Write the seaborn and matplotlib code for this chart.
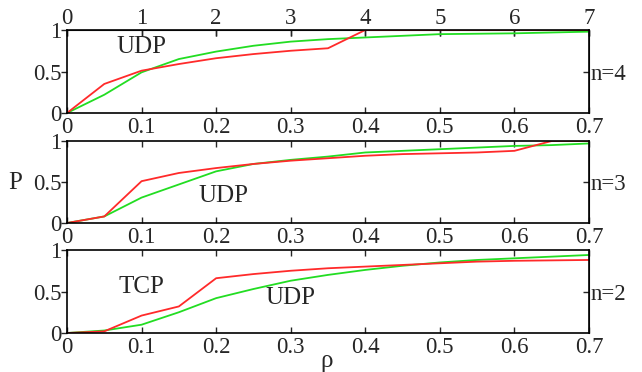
import matplotlib
matplotlib.use("Agg")
import matplotlib.pyplot as plt
import seaborn as sns
import pandas as pd

rho = [0.0, 0.05, 0.1, 0.15, 0.2, 0.25, 0.3, 0.35, 0.4, 0.45, 0.5, 0.55, 0.6, 0.65, 0.7]

# n=4
red_n4 = [0.0, 0.35, 0.51, 0.59, 0.66, 0.71, 0.75, 0.78, 1.0, 1.0, 1.0, 1.0, 1.0, 1.0, 1.0]
green_n4 = [0.0, 0.22, 0.49, 0.65, 0.74, 0.81, 0.86, 0.89, 0.91, 0.93, 0.95, 0.955, 0.96, 0.97, 0.98]
# n=3
red_n3 = [0.0, 0.08, 0.51, 0.61, 0.67, 0.72, 0.76, 0.79, 0.82, 0.84, 0.85, 0.86, 0.88, 1.0, 1.0]
green_n3 = [0.0, 0.08, 0.31, 0.47, 0.63, 0.72, 0.77, 0.81, 0.86, 0.88, 0.9, 0.92, 0.94, 0.95, 0.97]
# n=2
red_n2 = [0.0, 0.02, 0.21, 0.32, 0.66, 0.71, 0.75, 0.78, 0.8, 0.82, 0.84, 0.86, 0.87, 0.875, 0.88]
green_n2 = [0.0, 0.03, 0.1, 0.25, 0.42, 0.53, 0.63, 0.7, 0.76, 0.81, 0.85, 0.88, 0.9, 0.92, 0.94]

panel_labels = ["n=4", "n=3", "n=2"]
xticks = [0, 0.1, 0.2, 0.3, 0.4, 0.5, 0.6, 0.7]
xticklabels = ["0", "0.1", "0.2", "0.3", "0.4", "0.5", "0.6", "0.7"]
top_ticklabels = ["0", "1", "2", "3", "4", "5", "6", "7"]
yticks = [0, 0.5, 1]
yticklabels = ["0", "0.5", "1"]

sns.set_style("white")
plt.rcParams["font.family"] = ["Liberation Serif", "DejaVu Serif"]
FS = 16.5
AFS = 18

RED = "#ff2a2a"
GREEN = "#22dd22"

fig = plt.figure(figsize=(6.42, 3.72), dpi=100)
W = 642.0
H = 372.0
left = 67 / W
width = (589 - 67) / W
panels = [(30, 113), (141, 223), (250, 333)]
data = [(red_n4, green_n4), (red_n3, green_n3), (red_n2, green_n2)]

axes = []
for i, ((t, b), (rd, gr)) in enumerate(zip(panels, data)):
    ax = fig.add_axes([left, 1 - b / H, width, (b - t) / H])
    df = pd.DataFrame({"rho": rho, "red": rd, "green": gr})
    sns.lineplot(data=df, x="rho", y="green", ax=ax, color=GREEN, lw=1.3)
    sns.lineplot(data=df, x="rho", y="red", ax=ax, color=RED, lw=1.3)
    ax.set_xlim(0, 0.7)
    ax.set_ylim(0, 1)
    ax.set_xlabel("")
    ax.set_ylabel("")
    ax.set_xticks(xticks)
    ax.set_xticklabels(xticklabels, fontsize=FS)
    ax.set_yticks(yticks)
    ax.set_yticklabels(yticklabels, fontsize=FS)
    ax.tick_params(axis="x", direction="in", length=4, width=1, pad=3, top=True, bottom=True)
    ax.tick_params(axis="y", direction="out", length=4, width=1, pad=0, left=True, right=False)
    for s in ax.spines.values():
        s.set_linewidth(1.2)
        s.set_color("black")
    sec = ax.secondary_yaxis("right")
    sec.set_yticks([0.5])
    sec.set_yticklabels([panel_labels[i]], fontsize=FS)
    sec.tick_params(direction="in", length=4, width=1, pad=1)
    axes.append(ax)

# top axis on first panel: 0..7
topax = axes[0].secondary_xaxis("top", functions=(lambda x: x * 10, lambda x: x / 10))
topax.set_xticks(list(range(8)))
topax.set_xticklabels(top_ticklabels, fontsize=FS)
topax.tick_params(direction="in", length=4, width=1, pad=1)

axes[0].text(0.1, 0.8, "UDP", fontsize=AFS, ha="center", va="center")
axes[1].text(0.21, 0.33, "UDP", fontsize=AFS, ha="center", va="center")
axes[2].text(0.1, 0.56, "TCP", fontsize=AFS, ha="center", va="center")
axes[2].text(0.3, 0.42, "UDP", fontsize=AFS, ha="center", va="center")

fig.text(15 / W, 1 - 183 / H, "P", fontsize=AFS, ha="center", va="center")
fig.text(327 / W, 1 - 361 / H, "ρ", fontsize=AFS, ha="center", va="center")

fig.savefig("out.png", dpi=100, facecolor="white")
